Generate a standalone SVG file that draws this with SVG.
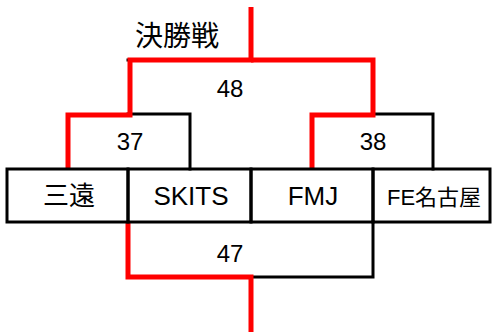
<svg xmlns="http://www.w3.org/2000/svg" width="492" height="332" viewBox="0 0 492 332">
<style>
.b{fill:none;stroke:#000;stroke-width:3;stroke-linecap:square}
.r{fill:none;stroke:#ff0000;stroke-width:5;stroke-linecap:butt;stroke-linejoin:miter}
text{font-family:"Liberation Sans","Noto Sans CJK JP",sans-serif;fill:#000;text-anchor:middle}
.t{font-size:26px}
.n{font-size:24px}
</style>
<rect width="492" height="332" fill="#fff"/>
<g id="connectors">
<polyline class="b" points="128,60 251,60"/>
<polyline class="b" points="128,114 190,114 190,169"/>
<polyline class="b" points="373,114 433,114 433,169"/>
<polyline class="b" points="251,277 373,277 373,222"/>
<polyline class="r" points="68,169 68,115 130,115 130,60 251,60 251,7"/>
<polyline class="r" points="312,169 312,115 373,115 373,60 251,60"/>
<polyline class="r" points="128,222 128,277 251,277 251,332"/>
</g>
<g id="t-sanen"><rect class="b" x="7" y="169" width="121" height="53"/><text class="t" x="69" y="205">三遠</text></g>
<g id="t-skits"><rect class="b" x="128" y="169" width="123" height="53"/><text class="t" x="191" y="205">SKITS</text></g>
<g id="t-fmj"><rect class="b" x="251" y="169" width="122" height="53"/><text class="t" x="313" y="205">FMJ</text></g>
<g id="t-fe"><rect class="b" x="373" y="169" width="117" height="53"/><text x="434" y="205" style="font-size:22px">FE名古屋</text></g>
<g id="labels">
<text x="177" y="46" style="font-size:28px">決勝戦</text>
<text class="n" x="230" y="97">48</text>
<text class="n" x="130" y="150">37</text>
<text class="n" x="373" y="150">38</text>
<text class="n" x="230" y="262">47</text>
</g>
</svg>
